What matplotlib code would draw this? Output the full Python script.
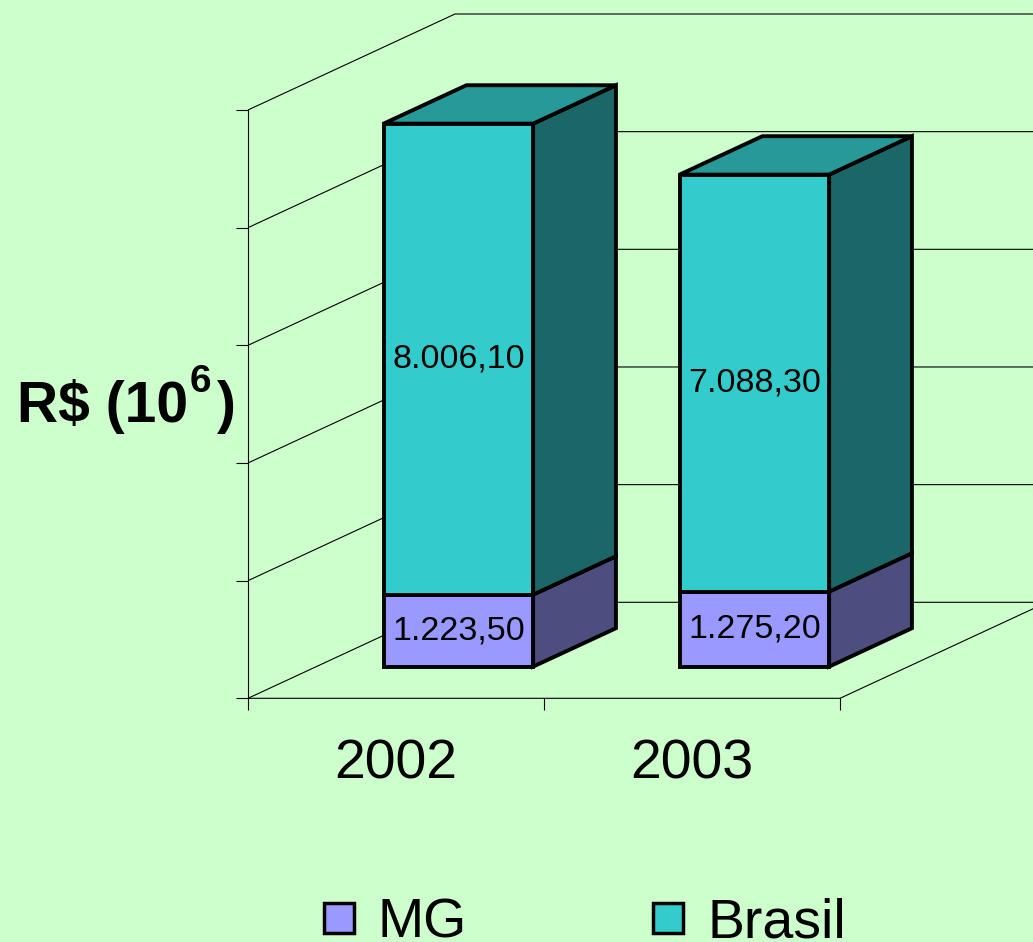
"""Stacked 3D-style bar chart: MG vs Brasil, 2002-2003 (R$ millions)."""

import matplotlib.pyplot as plt
from matplotlib.patches import Polygon
from matplotlib.lines import Line2D

# ---
# Data
# ---
years = ["2002", "2003"]
series_names = ["MG", "Brasil"]
mg = [1223.5, 1275.2]
brasil = [8006.1, 7088.3]
y_max = 10000
y_step = 2000

# ---
# Style
# ---
bg = "#CCFFCC"
front_colors = ["#9999FF", "#33CCCC"]
side_colors = ["#4D4D80", "#1B6666"]
top_colors = ["#4D4D80", "#279999"]

plt.rcParams["font.family"] = ["Liberation Sans", "DejaVu Sans"]

# pixel geometry of the plot (oblique projection)
fig_w, fig_h = 1033, 942
px_per_cat = 296.0  # px per category
px_per_val = 0.05883  # px per R$ million
origin_px = (248.0, 698.3)  # front-left floor corner
depth_dx = 207.0 / px_per_cat  # wall depth in data units
depth_dy = 96.0 / px_per_val
bar_front, bar_back = 0.33, 0.73  # depth fractions of bars
bar_width = 0.505
bar_shift = -0.02


def proj(x, y, d):
    return x + d * depth_dx, y + d * depth_dy


def fmt_br(v):
    s = f"{v:,.2f}"
    return s.replace(",", "#").replace(".", ",").replace("#", ".")


fig = plt.figure(figsize=(fig_w / 100, fig_h / 100), dpi=100, facecolor=bg)
ax = fig.add_axes([0, 0, 1, 1])
ax.set_facecolor(bg)
ax.set_xlim(-origin_px[0] / px_per_cat, (fig_w - origin_px[0]) / px_per_cat)
ax.set_ylim(-(fig_h - origin_px[1]) / px_per_val, origin_px[1] / px_per_val)
ax.axis("off")

n = len(years)
grid_kw = dict(color="black", lw=0.8, zorder=1, solid_capstyle="butt")

# walls: gridlines on the left and back walls
for v in range(0, y_max + 1, y_step):
    pts = [proj(0, v, 0), proj(0, v, 1), proj(n + 0.2, v, 1)]
    ax.plot([p[0] for p in pts], [p[1] for p in pts], **grid_kw)
    # y tick
    ax.plot([-11.6 / px_per_cat, 0], [v, v], **grid_kw)

# floor front and right edges, axis line
floor = [proj(0, 0, 0), proj(n, 0, 0), proj(n, 0, 1)]
ax.plot([p[0] for p in floor], [p[1] for p in floor], **grid_kw)
ax.plot([0, 0], [0, y_max], **grid_kw)
for i in range(n + 1):
    ax.plot([i, i], [0, -12 / px_per_val], **grid_kw)

# bars
edge_kw = dict(edgecolor="black", linewidth=2.8, joinstyle="miter")
for i, year in enumerate(years):
    xc = i + 0.5 + bar_shift
    xl, xr = xc - bar_width / 2, xc + bar_width / 2
    bottom = 0.0
    values = [mg[i], brasil[i]]
    for k, val in enumerate(values):
        top = bottom + val
        side = [proj(xr, bottom, bar_front), proj(xr, bottom, bar_back),
                proj(xr, top, bar_back), proj(xr, top, bar_front)]
        ax.add_patch(Polygon(side, closed=True, facecolor=side_colors[k],
                             zorder=2, **edge_kw))
        if k == len(values) - 1:
            lid = [proj(xl, top, bar_front), proj(xl, top, bar_back),
                   proj(xr, top, bar_back), proj(xr, top, bar_front)]
            ax.add_patch(Polygon(lid, closed=True, facecolor=top_colors[k],
                                 zorder=2, **edge_kw))
        fx, fy = proj(xc, bottom, bar_front)
        ax.bar(fx, val, width=bar_width, bottom=fy, color=front_colors[k],
               zorder=3, **edge_kw)
        lx, ly = proj(xc, (bottom + top) / 2, bar_front)
        ax.text(lx, ly, fmt_br(val), ha="center", va="center", fontsize=24.5,
                zorder=4)
        bottom = top
    ax.text(i + 0.5, -80 / px_per_val, year, ha="center", va="baseline",
            fontsize=40)

# y label: "R$ (10" + superscript 6 + " )"
fig.text(16.7 / fig_w, 1 - 422 / fig_h, "R$ (10", ha="left",
         va="baseline", fontsize=41, fontweight="bold")
fig.text(190 / fig_w, 1 - 391.7 / fig_h, "6", ha="left", va="baseline",
         fontsize=28, fontweight="bold")
fig.text(216.7 / fig_w, 1 - 422 / fig_h, ")", ha="left", va="baseline",
         fontsize=41, fontweight="bold")

# legend
handles = [
    Line2D([], [], marker="s", ls="", ms=22, mfc=c, mec="black", mew=2.5)
    for c in front_colors
]
fig.legend(handles, series_names, loc="lower left", ncol=2, frameon=False,
           fontsize=40, bbox_to_anchor=(322 / fig_w, -7 / fig_h),
           borderpad=0, borderaxespad=0, handlelength=0.6,
           handletextpad=0.4, columnspacing=3.33)

fig.savefig("out.png", dpi=100, facecolor=bg)
